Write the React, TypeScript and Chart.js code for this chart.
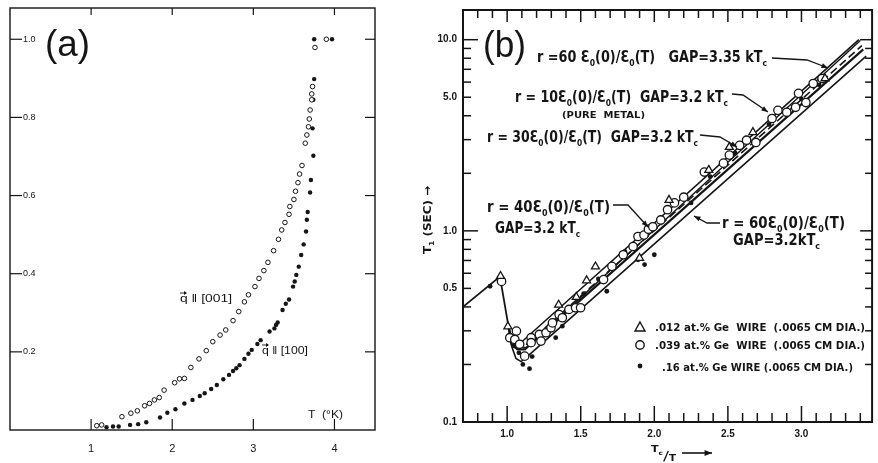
import React, { useEffect, useRef } from "react";
import { Chart, registerables } from "chart.js";
Chart.register(...registerables);

const INK = "#151515";
const FONT = "'Liberation Sans', Arial, sans-serif";
const LETTER = "'DejaVu Sans', 'Liberation Sans', sans-serif";

// ---------------- Panel (a) ----------------
const A_X_TICKS = [1, 2, 3, 4];
const A_Y_TICKS = [0.2, 0.4, 0.6, 0.8, 1.0];
// q || [001]  (open circles)
const A_OPEN_T = [1.07, 1.13, 1.38, 1.49, 1.57, 1.66, 1.72, 1.78, 1.84, 1.9, 2.03, 2.09, 2.15, 2.23, 2.33, 2.42, 2.5, 2.59, 2.66, 2.75, 2.82, 2.89, 2.94, 3.02, 3.07, 3.13, 3.18, 3.25, 3.31, 3.35, 3.39, 3.44, 3.45, 3.5, 3.52, 3.55, 3.57, 3.6, 3.64, 3.66, 3.68, 3.69, 3.7, 3.72, 3.72, 3.73, 3.76, 3.9];
const A_OPEN_V = [0.011, 0.013, 0.034, 0.043, 0.049, 0.062, 0.068, 0.077, 0.083, 0.102, 0.121, 0.131, 0.132, 0.16, 0.182, 0.203, 0.226, 0.243, 0.256, 0.28, 0.303, 0.328, 0.346, 0.367, 0.388, 0.408, 0.429, 0.459, 0.488, 0.512, 0.531, 0.552, 0.572, 0.59, 0.611, 0.633, 0.655, 0.677, 0.734, 0.755, 0.776, 0.796, 0.819, 0.845, 0.86, 0.879, 0.979, 1.0];
// q || [100]  (filled dots)
const A_FILL_T = [1.19, 1.27, 1.34, 1.48, 1.58, 1.68, 1.85, 1.94, 2.04, 2.15, 2.25, 2.34, 2.4, 2.48, 2.55, 2.63, 2.7, 2.75, 2.79, 2.83, 2.89, 2.94, 2.98, 3.05, 3.09, 3.2, 3.26, 3.28, 3.3, 3.36, 3.4, 3.44, 3.49, 3.51, 3.53, 3.56, 3.59, 3.62, 3.65, 3.66, 3.67, 3.7, 3.71, 3.74, 3.73, 3.74, 3.75, 3.75, 3.97];
const A_FILL_V = [0.007, 0.009, 0.009, 0.013, 0.015, 0.02, 0.032, 0.044, 0.053, 0.068, 0.077, 0.087, 0.094, 0.105, 0.115, 0.13, 0.141, 0.151, 0.158, 0.166, 0.182, 0.195, 0.205, 0.22, 0.23, 0.252, 0.26, 0.269, 0.275, 0.307, 0.323, 0.334, 0.367, 0.38, 0.397, 0.418, 0.448, 0.475, 0.508, 0.538, 0.558, 0.608, 0.64, 0.702, 0.772, 0.845, 0.898, 1.0, 1.0];

// ---------------- Panel (b) ----------------
const B_X_TICKS = [1.0, 1.5, 2.0, 2.5, 3.0];
const B_Y_TICKS = [0.1, 0.5, 1, 5, 10];
const B_Y_MINOR = [0.2, 0.3, 0.4, 0.5, 0.6, 0.7, 0.8, 0.9, 1, 2, 3, 4, 5, 6, 7, 8, 9, 10];
// .012 at.% Ge (triangles)
const B_TRI_X = [0.955, 1.005, 1.35, 1.47, 1.54, 1.6, 1.9, 2.1, 2.37, 2.51, 2.67, 3.16];
const B_TRI_Y = [0.58, 0.316, 0.41, 0.45, 0.55, 0.65, 0.72, 1.45, 2.08, 2.74, 3.28, 6.27];
// .039 at.% Ge (open circles)
const B_OPEN_X = [0.962, 1.018, 1.052, 1.063, 1.085, 1.119, 1.163, 1.163, 1.219, 1.23, 1.264, 1.298, 1.308, 1.353, 1.375, 1.42, 1.465, 1.499, 1.655, 1.712, 1.789, 1.856, 1.889, 1.93, 1.96, 1.99, 2.044, 2.09, 2.137, 2.2, 2.34, 2.47, 2.51, 2.58, 2.627, 2.69, 2.8, 2.84, 2.9, 2.96, 2.98, 3.03, 3.08, 3.14];
const B_OPEN_Y = [0.544, 0.276, 0.27, 0.299, 0.255, 0.221, 0.276, 0.26, 0.287, 0.265, 0.293, 0.311, 0.33, 0.365, 0.351, 0.388, 0.396, 0.396, 0.556, 0.652, 0.75, 0.828, 0.934, 0.95, 1.02, 1.05, 1.14, 1.29, 1.4, 1.5, 2.03, 2.26, 2.49, 2.8, 2.98, 2.9, 3.87, 4.27, 4.17, 4.43, 5.24, 4.69, 5.9, 6.26];
// .16 at.% Ge (dots)
const B_DOT_X = [0.884, 1.05, 1.08, 1.107, 1.152, 1.17, 1.33, 1.375, 1.52, 1.62, 1.677, 1.8, 1.889, 1.934, 2.0, 2.25, 2.38, 2.55, 2.78, 3.0, 3.12];
const B_DOT_Y = [0.513, 0.25, 0.23, 0.2, 0.19, 0.22, 0.276, 0.317, 0.47, 0.56, 0.483, 0.78, 0.706, 0.666, 0.75, 1.4, 1.92, 2.55, 3.6, 4.9, 5.8];
// theory curves
const B_BASE_X = [0.7, 0.951, 1.005];
const B_BASE_Y = [0.4, 0.576, 0.33];
const R40_X = [1.005, 1.025, 1.05, 1.1, 3.39];
const R40_Y = [0.33, 0.285, 0.268, 0.263, 10.0];
const R60A_X = [1.005, 1.03, 1.07, 1.13, 3.4];
const R60A_Y = [0.33, 0.265, 0.248, 0.245, 9.9];
const R10_X = [1.005, 1.03, 1.07, 1.12, 3.41];
const R10_Y = [0.33, 0.26, 0.25, 0.25, 9.3];
const R30_X = [1.005, 1.03, 1.07, 1.12, 3.42];
const R30_Y = [0.33, 0.255, 0.24, 0.24, 8.9];
const R60B_X = [1.005, 1.03, 1.06, 1.095, 1.14, 3.44];
const R60B_Y = [0.33, 0.25, 0.215, 0.207, 0.221, 8.2];

const pts = (xs: number[], ys: number[]) => xs.map((x, i) => ({ x, y: ys[i] }));

// ---------- drawing helpers ----------
type Seg = { t: string; sub: boolean };
function parseRich(s: string): Seg[] {
  const out: Seg[] = [];
  let i = 0;
  while (i < s.length) {
    if (s[i] === "_") {
      out.push({ t: s[i + 1], sub: true });
      i += 2;
    } else {
      let j = i;
      while (j < s.length && s[j] !== "_") j++;
      out.push({ t: s.slice(i, j), sub: false });
      i = j;
    }
  }
  return out;
}
function drawRich(ctx: CanvasRenderingContext2D, s: string, x: number, y: number, size: number, width: number, weight = "bold", family = LETTER) {
  const segs = parseRich(s);
  const fMain = `${weight} ${size}px ${family}`;
  const fSub = `${weight} ${Math.round(size * 0.62)}px ${family}`;
  let nat = 0;
  for (const g of segs) {
    ctx.font = g.sub ? fSub : fMain;
    nat += ctx.measureText(g.t).width;
  }
  const sx = width ? width / nat : 1;
  ctx.save();
  ctx.translate(x, y);
  ctx.scale(sx, 1);
  ctx.textBaseline = "alphabetic";
  ctx.textAlign = "left";
  ctx.fillStyle = INK;
  let cx = 0;
  for (const g of segs) {
    ctx.font = g.sub ? fSub : fMain;
    ctx.fillText(g.t, cx, g.sub ? size * 0.28 : 0);
    cx += ctx.measureText(g.t).width;
  }
  ctx.restore();
}
function arrow(ctx: CanvasRenderingContext2D, p: number[][], head = 7, lw = 1.3) {
  ctx.save();
  ctx.strokeStyle = INK;
  ctx.fillStyle = INK;
  ctx.lineWidth = lw;
  ctx.beginPath();
  ctx.moveTo(p[0][0], p[0][1]);
  for (let i = 1; i < p.length; i++) ctx.lineTo(p[i][0], p[i][1]);
  ctx.stroke();
  const [x1, y1] = p[p.length - 2];
  const [x2, y2] = p[p.length - 1];
  const a = Math.atan2(y2 - y1, x2 - x1);
  ctx.beginPath();
  ctx.moveTo(x2, y2);
  ctx.lineTo(x2 - head * Math.cos(a - 0.38), y2 - head * Math.sin(a - 0.38));
  ctx.lineTo(x2 - head * Math.cos(a + 0.38), y2 - head * Math.sin(a + 0.38));
  ctx.closePath();
  ctx.fill();
  ctx.restore();
}
function line(ctx: CanvasRenderingContext2D, x1: number, y1: number, x2: number, y2: number) {
  ctx.beginPath();
  ctx.moveTo(x1, y1);
  ctx.lineTo(x2, y2);
  ctx.stroke();
}
function fixAxis(size: number, horiz: boolean) {
  return (s: any) => {
    if (horiz) s.height = size;
    else s.width = size;
    s.paddingLeft = 0;
    s.paddingRight = 0;
    s.paddingTop = 0;
    s.paddingBottom = 0;
  };
}

// ---------- panel (a) decorations ----------
const panelAPlugin = {
  id: "panelA",
  afterDraw(chart: any) {
    const { ctx, chartArea: ca, scales } = chart;
    const { x, y } = scales;
    ctx.save();
    ctx.strokeStyle = INK;
    ctx.lineWidth = 1.4;
    ctx.strokeRect(ca.left, ca.top, ca.right - ca.left, ca.bottom - ca.top);
    ctx.lineWidth = 1.2;
    for (const v of A_Y_TICKS) {
      const py = y.getPixelForValue(v);
      line(ctx, ca.left, py, ca.left + 12, py);
      line(ctx, ca.right, py, ca.right - 10, py);
    }
    for (const v of A_X_TICKS) {
      const px = x.getPixelForValue(v);
      line(ctx, px, ca.bottom, px, ca.bottom - 11);
      line(ctx, px, ca.top, px, ca.top + 7);
    }
    drawRich(ctx, "(a)", 45, 56, 36, 45, "normal", FONT);
    const qlab = (txt: string, x0: number, yb: number, w: number) => {
      drawRich(ctx, "q \u2016 " + txt, x0, yb, 10, w, "normal", FONT);
      ctx.lineWidth = 0.9;
      line(ctx, x0, yb - 9, x0 + 6, yb - 9);
      ctx.beginPath();
      ctx.moveTo(x0 + 7, yb - 9);
      ctx.lineTo(x0 + 4, yb - 11);
      ctx.lineTo(x0 + 4, yb - 7);
      ctx.closePath();
      ctx.fillStyle = INK;
      ctx.fill();
    };
    qlab("[001]", 180, 302, 52);
    qlab("[100]", 262, 354, 46);
    drawRich(ctx, "T  (\u00B0K)", 308, 418, 10, 35, "normal", FONT);
    ctx.restore();
  },
};

// ---------- panel (b) decorations ----------
const panelBPlugin = {
  id: "panelB",
  afterDraw(chart: any) {
    const { ctx, chartArea: ca, scales } = chart;
    const { x, y } = scales;
    ctx.save();
    ctx.strokeStyle = INK;
    ctx.lineWidth = 2;
    ctx.strokeRect(ca.left, ca.top, ca.right - ca.left, ca.bottom - ca.top);
    ctx.lineWidth = 1.5;
    for (let i = 8; i <= 34; i++) {
      const px = x.getPixelForValue(i / 10);
      const major = i % 5 === 0;
      line(ctx, px, ca.bottom, px, ca.bottom - (major ? 16 : 9));
      line(ctx, px, ca.top, px, ca.top + (major ? 12 : 8));
    }
    for (const v of B_Y_MINOR) {
      const py = y.getPixelForValue(v);
      const major = v === 1 || v === 10;
      line(ctx, ca.left, py, ca.left + (major ? 15 : 8), py);
      line(ctx, ca.right, py, ca.right - (major ? 12 : 7), py);
    }
    // panel letter
    drawRich(ctx, "(b)", 83, 57, 36, 43, "normal", FONT);
    // curve labels
    drawRich(ctx, "r =60 \u0190_0(0)/\u0190_0(T)   GAP=3.35 kT_c", 137, 62, 15, 230);
    arrow(ctx, [[372, 58], [407, 60], [428, 68]]);
    drawRich(ctx, "r = 10\u0190_0(0)/\u0190_0(T)  GAP=3.2 kT_c", 115, 102, 15, 213);
    drawRich(ctx, "(PURE  METAL)", 162, 118, 9, 83);
    arrow(ctx, [[332, 94], [343, 95], [368, 112]]);
    drawRich(ctx, "r = 30\u0190_0(0)/\u0190_0(T)  GAP=3.2 kT_c", 87, 142, 15, 211);
    arrow(ctx, [[300, 135], [320, 137], [337, 147]]);
    drawRich(ctx, "r = 40\u0190_0(0)/\u0190_0(T)", 87, 212, 15, 123);
    drawRich(ctx, "GAP=3.2 kT_c", 95, 233, 15, 85);
    arrow(ctx, [[213, 205], [228, 205], [248, 227]]);
    drawRich(ctx, "r = 60\u0190_0(0)/\u0190_0(T)", 322, 228, 15, 123);
    drawRich(ctx, "GAP=3.2kT_c", 333, 245, 15, 87);
    arrow(ctx, [[320, 223], [307, 223], [294, 216]]);
    // legend
    ctx.lineWidth = 1.4;
    ctx.strokeStyle = INK;
    ctx.fillStyle = "#fff";
    ctx.beginPath();
    ctx.moveTo(240, 322);
    ctx.lineTo(245, 331);
    ctx.lineTo(235, 331);
    ctx.closePath();
    ctx.fill();
    ctx.stroke();
    drawRich(ctx, ".012 at.% Ge  WIRE  (.0065 CM DIA.)", 255, 331, 10, 210);
    ctx.beginPath();
    ctx.arc(240, 345, 4.2, 0, Math.PI * 2);
    ctx.fill();
    ctx.stroke();
    drawRich(ctx, ".039 at.% Ge  WIRE  (.0065 CM DIA.)", 255, 349, 10, 210);
    ctx.fillStyle = INK;
    ctx.beginPath();
    ctx.arc(240, 366, 2.4, 0, Math.PI * 2);
    ctx.fill();
    drawRich(ctx, ".16 at.% Ge WIRE (.0065 CM DIA.)", 262, 371, 10, 191);
    // y axis title (rotated)
    ctx.save();
    ctx.translate(31, 254);
    ctx.rotate(-Math.PI / 2);
    drawRich(ctx, "T_1 (SEC) \u2192", 0, 0, 11, 68);
    ctx.restore();
    // x axis title Tc/T ->
    drawRich(ctx, "T_c", 251, 452, 9, 12);
    drawRich(ctx, "/", 263, 460, 13, 6, "normal");
    drawRich(ctx, "T", 269, 461, 9, 7);
    arrow(ctx, [[282, 453], [312, 453]], 8, 1.6);
    ctx.restore();
  },
};

function useChart(ref: React.RefObject<HTMLCanvasElement>, make: (c: HTMLCanvasElement) => Chart) {
  useEffect(() => {
    if (!ref.current) return;
    const ch = make(ref.current);
    return () => ch.destroy();
  }, []);
}

export default function App() {
  const aRef = useRef<HTMLCanvasElement>(null);
  const bRef = useRef<HTMLCanvasElement>(null);

  useChart(aRef as any, (c) =>
    new Chart(c, {
      type: "scatter",
      data: {
        datasets: [
          { label: "q || [001]", data: pts(A_OPEN_T, A_OPEN_V), pointStyle: "circle", pointRadius: 2.3, pointBorderWidth: 1, borderColor: INK, backgroundColor: "#fff" },
          { label: "q || [100]", data: pts(A_FILL_T, A_FILL_V), pointStyle: "circle", pointRadius: 2.2, pointBorderWidth: 0, borderColor: INK, backgroundColor: INK },
        ],
      } as any,
      options: {
        responsive: false,
        animation: false,
        devicePixelRatio: 1,
        events: [],
        layout: { padding: { left: 10, top: 8, right: 25, bottom: 0 } },
        plugins: { legend: { display: false }, tooltip: { enabled: false } },
        scales: {
          x: {
            type: "linear", min: 0, max: 4.5,
            grid: { display: false, drawTicks: false }, border: { display: false },
            ticks: { color: INK, font: { family: FONT, size: 11 }, padding: 12, maxRotation: 0, autoSkip: false, callback: (v: any) => String(v) },
            afterBuildTicks: (s: any) => { s.ticks = A_X_TICKS.map((v) => ({ value: v })); },
            afterFit: fixAxis(33, true),
          },
          y: {
            type: "linear", min: 0, max: 1.08,
            grid: { display: false, drawTicks: false }, border: { display: false },
            ticks: { mirror: true, color: INK, font: { family: FONT, size: 9 }, padding: 13, autoSkip: false, callback: (v: any) => Number(v).toFixed(1) },
            afterBuildTicks: (s: any) => { s.ticks = A_Y_TICKS.map((v) => ({ value: v })); },
            afterFit: fixAxis(0, false),
          },
        },
      } as any,
      plugins: [panelAPlugin],
    })
  );

  useChart(bRef as any, (c) =>
    new Chart(c, {
      type: "scatter",
      data: {
        datasets: [
          { label: ".012 at.% Ge", data: pts(B_TRI_X, B_TRI_Y), pointStyle: "triangle", pointRadius: 4.6, pointBorderWidth: 1.3, borderColor: INK, backgroundColor: "#fff" },
          { label: ".039 at.% Ge", data: pts(B_OPEN_X, B_OPEN_Y), pointStyle: "circle", pointRadius: 4.2, pointBorderWidth: 1.3, borderColor: INK, backgroundColor: "#fff" },
          { label: ".16 at.% Ge", data: pts(B_DOT_X, B_DOT_Y), pointStyle: "circle", pointRadius: 2.4, pointBorderWidth: 0, borderColor: INK, backgroundColor: INK },
          { label: "base", data: pts(B_BASE_X, B_BASE_Y), showLine: true, pointRadius: 0, borderColor: INK, borderWidth: 1.8, tension: 0 },
          { label: "r=40 3.2", data: pts(R40_X, R40_Y), showLine: true, pointRadius: 0, borderColor: INK, borderWidth: 1.6, tension: 0 },
          { label: "r=60 3.35", data: pts(R60A_X, R60A_Y), showLine: true, pointRadius: 0, borderColor: INK, borderWidth: 1.4, tension: 0 },
          { label: "r=10 3.2", data: pts(R10_X, R10_Y), showLine: true, pointRadius: 0, borderColor: INK, borderWidth: 1.6, borderDash: [8, 4], tension: 0 },
          { label: "r=30 3.2", data: pts(R30_X, R30_Y), showLine: true, pointRadius: 0, borderColor: INK, borderWidth: 2.2, tension: 0 },
          { label: "r=60 3.2", data: pts(R60B_X, R60B_Y), showLine: true, pointRadius: 0, borderColor: INK, borderWidth: 1.6, tension: 0 },
        ],
      } as any,
      options: {
        responsive: false,
        animation: false,
        devicePixelRatio: 1,
        events: [],
        layout: { padding: { left: 0, top: 10, right: 2, bottom: 0 } },
        plugins: { legend: { display: false }, tooltip: { enabled: false } },
        scales: {
          x: {
            type: "linear", min: 0.7, max: 3.48,
            grid: { display: false, drawTicks: false }, border: { display: false },
            ticks: { color: INK, font: { family: FONT, size: 10, weight: "bold" }, padding: 6, maxRotation: 0, autoSkip: false, callback: (v: any) => Number(v).toFixed(1) },
            afterBuildTicks: (s: any) => { s.ticks = B_X_TICKS.map((v) => ({ value: v })); },
            afterFit: fixAxis(41, true),
          },
          y: {
            type: "logarithmic", min: 0.1, max: 14.3,
            grid: { display: false, drawTicks: false }, border: { display: false },
            ticks: { color: INK, font: { family: FONT, size: 10, weight: "bold" }, padding: 6, autoSkip: false, callback: (v: any) => Number(v).toFixed(1) },
            afterBuildTicks: (s: any) => { s.ticks = B_Y_TICKS.map((v) => ({ value: v })); },
            afterFit: fixAxis(63, false),
          },
        },
      } as any,
      plugins: [panelBPlugin],
    })
  );

  return (
    <div style={{ position: "absolute", left: 0, top: 0, width: 878, height: 463, background: "#fff", overflow: "hidden" }}>
      <canvas ref={aRef} width={400} height={463} style={{ position: "absolute", left: 0, top: 0, width: 400, height: 463 }} />
      <canvas ref={bRef} width={478} height={463} style={{ position: "absolute", left: 400, top: 0, width: 478, height: 463 }} />
    </div>
  );
}
